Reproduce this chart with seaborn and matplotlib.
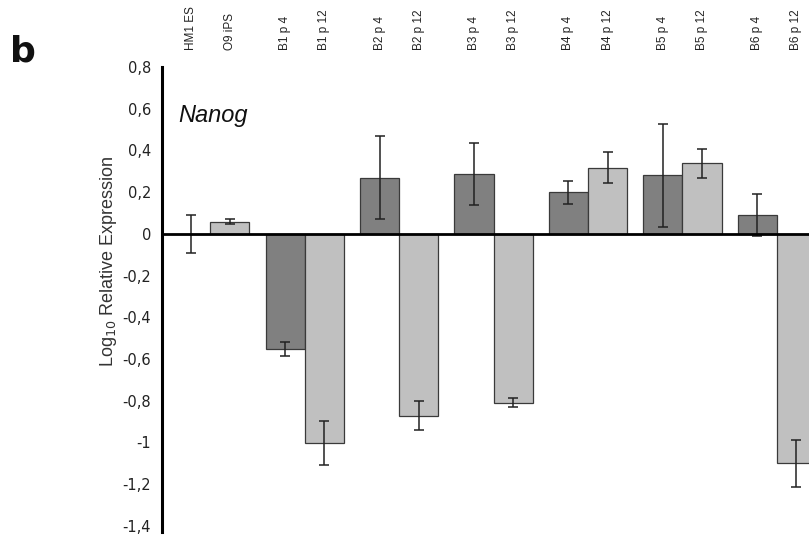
import pandas as pd
import numpy as np
import matplotlib
matplotlib.use('Agg')
import matplotlib.pyplot as plt
import seaborn as sns

# data (log10 relative expression, Nanog)
groups = ['HM1/O9', 'B1', 'B2', 'B3', 'B4', 'B5', 'B6']
tick_labels = ['HM1 ES', 'O9 iPS', 'B1 p 4', 'B1 p 12', 'B2 p 4', 'B2 p 12',
               'B3 p 4', 'B3 p 12', 'B4 p 4', 'B4 p 12', 'B5 p 4', 'B5 p 12',
               'B6 p 4', 'B6 p 12']
early = [0.0, -0.553, 0.27, 0.288, 0.20, 0.28, 0.09]
early_err = [0.09, 0.035, 0.197, 0.148, 0.055, 0.245, 0.10]
late = [0.058, -1.005, -0.873, -0.81, 0.317, 0.339, -1.10]
late_err = [0.011, 0.105, 0.07, 0.022, 0.074, 0.07, 0.112]

df = pd.DataFrame({
    'group': groups * 2,
    'passage': ['early'] * len(groups) + ['late'] * len(groups),
    'value': early + late,
})
errs = {'early': early_err, 'late': late_err}

sns.set_style('white')
plt.rcParams['font.family'] = ['Liberation Sans', 'DejaVu Sans']

fig = plt.figure(figsize=(8.09, 5.39), dpi=100)
ax = fig.add_axes([0.2003, 0.013, 0.7997, 0.8627])

sns.barplot(data=df, x='group', y='value', hue='passage', order=groups,
            hue_order=['early', 'late'], palette=['#808080', '#c0c0c0'],
            width=0.826, gap=0, errorbar=None, edgecolor='#3a3a3a',
            linewidth=0.9, legend=False, ax=ax)

# error bars + tick positions from the bar patches
centers = []
for cont, key in zip(ax.containers, ['early', 'late']):
    xs = [p.get_x() + p.get_width() / 2 for p in cont.patches]
    hs = [p.get_height() for p in cont.patches]
    ax.errorbar(xs, hs, yerr=errs[key], fmt='none', ecolor='#222222',
                elinewidth=1.1, capsize=3.5, capthick=1.1)
    centers.append(xs)
ticks = [x for pair in zip(centers[0], centers[1]) for x in pair]

ax.axhline(0, color='black', lw=2, zorder=5)
ax.set_xlim(-0.508, 6.339)
ax.set_ylim(-1.43, 0.8)

yt = np.arange(-1.4, 0.81, 0.2)
ylabs = []
for v in yt:
    v = round(v, 1)
    ylabs.append('0' if abs(v) < 1e-9 else ('%g' % v).replace('.', ','))
ax.set_yticks(yt)
ax.set_yticklabels(ylabs, fontsize=10.5, family='DejaVu Sans', color='#222222')
ax.tick_params(axis='y', direction='out', length=4, width=1, color='black', pad=4)

ax.xaxis.tick_top()
ax.set_xticks(ticks)
ax.set_xticklabels(tick_labels, rotation=90, fontsize=8.5, color='#222222')
ax.tick_params(axis='x', length=0, pad=12)
ax.set_xlabel('')

for s in ['top', 'right', 'bottom']:
    ax.spines[s].set_visible(False)
ax.spines['left'].set_linewidth(2.2)
ax.spines['left'].set_color('black')

ax.set_ylabel('Log$_{10}$ Relative Expression', fontsize=13, color='#333333')
ax.yaxis.set_label_coords(-0.066, 0.583)

ax.text(0.025, 0.882, 'Nanog', transform=ax.transAxes, fontsize=17,
        style='italic', va='baseline', color='#111111')
fig.text(0.012, 1 - 62 / 539, 'b', fontsize=26, fontweight='bold',
         family='DejaVu Sans', va='baseline', color='#111111')

fig.savefig('out.png', dpi=100)
